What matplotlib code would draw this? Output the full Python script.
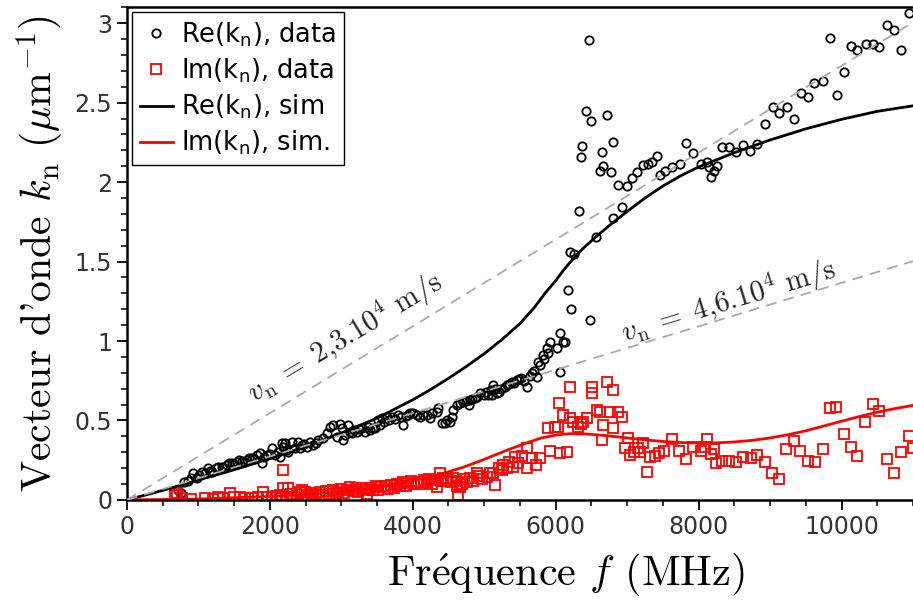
import numpy as np
import matplotlib
matplotlib.use("Agg")
import matplotlib.pyplot as plt
from matplotlib.ticker import MultipleLocator

# Re(k_n) measured points (f in MHz, k in um^-1)
re_f = [718, 756, 802, 858, 900, 928, 975, 1010, 1045, 1090, 1129, 1160, 1195, 1241, 1280,
        1325, 1360, 1395, 1430, 1465, 1500, 1535, 1570, 1605, 1640, 1675, 1710, 1745, 1780,
        1815, 1862, 1885, 1920, 1960, 2000, 2025, 2072, 2110, 2142, 2165, 2188, 2212, 2235,
        2260, 2305, 2352, 2398, 2420, 2445, 2480, 2515, 2562, 2608, 2640, 2678, 2748, 2795,
        2842, 2888, 2935, 2982, 3005, 3028, 3052, 3098, 3120, 3145, 3180, 3215, 3250, 3285,
        3332, 3370, 3402, 3440, 3472, 3518, 3540, 3565, 3600, 3635, 3670, 3705, 3750, 3798,
        3840, 3868, 3900, 3938, 3962, 4008, 4055, 4102, 4148, 4195, 4242, 4265, 4335, 4358,
        4405, 4452, 4480, 4522, 4545, 4570, 4615, 4660, 4708, 4750, 4780, 4802, 4830, 4872,
        4900, 4942, 4990, 5020, 5058, 5090, 5105, 5128, 5150, 5175, 5200, 5240, 5292, 5315,
        5350, 5385, 5420, 5455, 5480, 5520, 5560, 5595, 5640, 5665, 5700, 5735, 5758, 5780,
        5828, 5840, 5875, 5898, 5922, 6015, 6062, 6062, 6108, 6132, 6174, 6216, 6202, 6253,
        6323, 6352, 6365, 6422, 6472, 6500, 6482, 6570, 6622, 6650, 6668, 6720, 6771, 6804,
        6808, 6869, 6925, 6995, 7074, 7144, 7228, 7298, 7345, 7424, 7466, 7527, 7624, 7742,
        7826, 7920, 8036, 8116, 8152, 8176, 8222, 8256, 8326, 8420, 8522, 8628, 8722, 8816,
        8932, 9034, 9128, 9236, 9328, 9432, 9534, 9618, 9734, 9832, 9936, 10038, 10130,
        10222, 10336, 10434, 10528, 10636, 10738, 10826, 10938]
re_k = [0.063, 0.042, 0.115, 0.121, 0.14, 0.172, 0.138, 0.16, 0.178, 0.17, 0.199, 0.185, 0.178,
        0.199, 0.21, 0.206, 0.2, 0.22, 0.235, 0.231, 0.225, 0.241, 0.25, 0.247, 0.24, 0.252,
        0.265, 0.262, 0.255, 0.283, 0.294, 0.231, 0.27, 0.28, 0.29, 0.325, 0.283, 0.3, 0.272,
        0.356, 0.335, 0.356, 0.314, 0.3, 0.367, 0.325, 0.367, 0.33, 0.346, 0.35, 0.335, 0.367,
        0.346, 0.36, 0.377, 0.388, 0.419, 0.461, 0.472, 0.398, 0.478, 0.455, 0.377, 0.409,
        0.472, 0.43, 0.419, 0.44, 0.43, 0.445, 0.451, 0.43, 0.46, 0.44, 0.455, 0.451, 0.503,
        0.47, 0.514, 0.49, 0.524, 0.5, 0.524, 0.51, 0.535, 0.52, 0.472, 0.53, 0.535, 0.545,
        0.545, 0.535, 0.524, 0.535, 0.535, 0.514, 0.545, 0.556, 0.577, 0.486, 0.482, 0.5,
        0.492, 0.524, 0.566, 0.597, 0.61, 0.618, 0.62, 0.6, 0.629, 0.635, 0.64, 0.65, 0.671,
        0.66, 0.68, 0.66, 0.69, 0.66, 0.723, 0.7, 0.671, 0.68, 0.7, 0.713, 0.723, 0.73, 0.744,
        0.735, 0.755, 0.76, 0.77, 0.75, 0.713, 0.78, 0.797, 0.81, 0.776, 0.87, 0.85, 0.912,
        0.89, 0.954, 0.922, 0.996, 0.954, 1.048, 0.807, 0.996, 0.996, 1.321, 1.203, 1.562,
        1.545, 1.818, 2.155, 2.228, 2.449, 2.897, 2.384, 1.132, 1.656, 2.069, 2.19, 2.103,
        2.423, 2.061, 2.252, 1.774, 1.983, 1.843, 1.975, 2.027, 2.065, 2.107, 2.113, 2.128,
        2.162, 2.042, 2.071, 2.096, 2.111, 2.247, 2.184, 2.111, 2.128, 2.096, 2.03, 2.071,
        2.103, 2.222, 2.218, 2.19, 2.233, 2.195, 2.239, 2.363, 2.47, 2.432, 2.474, 2.4, 2.562,
        2.537, 2.625, 2.635, 2.908, 2.547, 2.694, 2.855, 2.834, 2.872, 2.866, 2.851, 2.987,
        2.956, 2.834, 3.067]

# Im(k_n) measured points
im_f = [672, 695, 765, 900, 1092, 1200, 1279, 1350, 1442, 1500, 1582, 1650, 1750, 1830, 1908,
        1960, 2025, 2080, 2140, 2180, 2188, 2235, 2258, 2300, 2328, 2380, 2422, 2445, 2492,
        2530, 2570, 2610, 2650, 2700, 2740, 2790, 2830, 2880, 2920, 2960, 3000, 3040, 3080,
        3122, 3160, 3200, 3240, 3290, 3330, 3360, 3402, 3440, 3480, 3520, 3560, 3612, 3650,
        3700, 3740, 3780, 3820, 3860, 3900, 3940, 3980, 4020, 4078, 4120, 4160, 4195, 4230,
        4270, 4312, 4335, 4382, 4400, 4430, 4470, 4500, 4530, 4570, 4600, 4620, 4638, 4662,
        4690, 4720, 4760, 4800, 4840, 4895, 4930, 4970, 5035, 5080, 5128, 5152, 5200, 5245,
        5268, 5315, 5350, 5400, 5432, 5470, 5524, 5595, 5595, 5665, 5726, 5782, 5898, 5922,
        5992, 6030, 6052, 6062, 6108, 6155, 6202, 6202, 6248, 6318, 6360, 6388, 6435, 6505,
        6505, 6575, 6622, 6645, 6668, 6715, 6762, 6808, 6808, 6878, 6925, 6972, 7018, 7042,
        7100, 7158, 7182, 7228, 7275, 7322, 7392, 7452, 7518, 7624, 7732, 7826, 7920, 8032,
        8092, 8124, 8176, 8218, 8246, 8334, 8432, 8522, 8628, 8732, 8824, 8932, 9026, 9128,
        9226, 9328, 9422, 9530, 9628, 9734, 9832, 9926, 10038, 10130, 10222, 10332, 10434,
        10528, 10636, 10728, 10832, 10938, 10995]
im_k = [0.031, 0.042, 0.01, 0.005, 0.01, 0.008, 0.017, 0.012, 0.046, 0.02, 0.021, 0.015, 0.01,
        0.018, 0.052, 0.02, 0.017, 0.025, 0.03, 0.075, 0.189, 0.021, 0.074, 0.04, 0.021, 0.035,
        0.052, 0.063, 0.052, 0.03, 0.045, 0.025, 0.04, 0.05, 0.03, 0.055, 0.04, 0.06, 0.035,
        0.05, 0.07, 0.045, 0.06, 0.084, 0.055, 0.07, 0.05, 0.075, 0.06, 0.04, 0.074, 0.065,
        0.085, 0.06, 0.08, 0.088, 0.07, 0.095, 0.075, 0.1, 0.085, 0.11, 0.09, 0.105, 0.12,
        0.1, 0.115, 0.1, 0.125, 0.115, 0.13, 0.1, 0.126, 0.084, 0.168, 0.12, 0.14, 0.12, 0.13,
        0.11, 0.14, 0.12, 0.09, 0.031, 0.084, 0.1, 0.13, 0.11, 0.14, 0.12, 0.168, 0.15, 0.13,
        0.147, 0.17, 0.168, 0.094, 0.2, 0.189, 0.22, 0.199, 0.24, 0.21, 0.272, 0.23, 0.277,
        0.199, 0.325, 0.262, 0.22, 0.262, 0.451, 0.31, 0.461, 0.46, 0.612, 0.298, 0.535, 0.304,
        0.713, 0.514, 0.492, 0.461, 0.48, 0.492, 0.514, 0.713, 0.671, 0.566, 0.556, 0.377,
        0.472, 0.744, 0.556, 0.692, 0.451, 0.556, 0.524, 0.325, 0.388, 0.283, 0.3, 0.325,
        0.304, 0.356, 0.178, 0.272, 0.277, 0.294, 0.308, 0.384, 0.308, 0.258, 0.331, 0.31,
        0.331, 0.384, 0.289, 0.321, 0.231, 0.247, 0.247, 0.241, 0.272, 0.266, 0.283, 0.241,
        0.168, 0.132, 0.321, 0.373, 0.308, 0.247, 0.237, 0.321, 0.577, 0.583, 0.413, 0.335,
        0.279, 0.492, 0.604, 0.56, 0.258, 0.172, 0.304, 0.403, 0.325]

# simulated curves
sim_f = [0, 500, 1000, 1500, 2000, 2500, 3000, 3500, 4000, 4250, 4500, 4750, 5000, 5250,
         5500, 5700, 5850, 6000, 6100, 6200, 6300, 6400, 6500, 6600, 6800, 7000, 7250, 7500,
         7750, 8000, 8250, 8500, 8750, 9000, 9500, 10000, 10500, 11000]
sim_re = [0, 0.06, 0.125, 0.19, 0.26, 0.335, 0.42, 0.515, 0.63, 0.695, 0.765, 0.84, 0.92,
          1.01, 1.11, 1.21, 1.3, 1.38, 1.44, 1.495, 1.545, 1.59, 1.63, 1.67, 1.745, 1.815,
          1.9, 1.975, 2.04, 2.095, 2.14, 2.185, 2.225, 2.265, 2.335, 2.395, 2.445, 2.48]
simi_f = [0, 1000, 2000, 2500, 3000, 3500, 3800, 4100, 4400, 4700, 5000, 5300, 5600, 5800,
          6000, 6200, 6400, 6600, 6800, 7000, 7250, 7500, 7750, 8000, 8250, 8500, 8750, 9000,
          9250, 9500, 9750, 10000, 10250, 10500, 10750, 11000]
sim_im = [0, 0.006, 0.022, 0.035, 0.052, 0.078, 0.1, 0.13, 0.163, 0.205, 0.255, 0.31, 0.36,
          0.39, 0.408, 0.417, 0.416, 0.409, 0.4, 0.39, 0.378, 0.368, 0.361, 0.358, 0.359,
          0.365, 0.375, 0.39, 0.41, 0.435, 0.465, 0.495, 0.525, 0.552, 0.575, 0.595]

# reference phase velocities (m/s) and their labels
vels = [2.3e4, 4.6e4]
vel_labels = [r"$v_\mathrm{n}\;=\;2{,}3.10^4$ m/s", r"$v_\mathrm{n}\;=\;4{,}6.10^4$ m/s"]
label_pos = [(3050, 1.02), (8420, 1.25)]

fig = plt.figure(figsize=(9.13, 6.06), dpi=100)
ax = fig.add_axes([0.139, 0.175, 0.861, 0.813])

ax.plot(re_f, re_k, 'o', mfc='none', mec='black', ms=6, mew=1.3, label=r'Re(k$_\mathrm{n}$), data')
ax.plot(im_f, im_k, 's', mfc='none', mec='red', ms=6.5, mew=1.3, label=r'Im(k$_\mathrm{n}$), data')
ax.plot(sim_f, sim_re, '-', color='black', lw=2, label=r'Re(k$_\mathrm{n}$), sim')
ax.plot(simi_f, sim_im, '-', color='red', lw=2, label=r'Im(k$_\mathrm{n}$), sim.')

ax.set_xlim(0, 11000)
ax.set_ylim(0, 3.1)

fline = np.array([0, 11000])
for v, txt, (tx, ty) in zip(vels, vel_labels, label_pos):
    kline = 2 * np.pi * fline / v
    ax.plot(fline, kline, '--', color='#aaaaaa', lw=1.3, dashes=(6, 4), zorder=3)
    p = ax.transData.transform(np.column_stack([fline, kline]))
    ang = np.degrees(np.arctan2(p[1, 1] - p[0, 1], p[1, 0] - p[0, 0]))
    t = ax.text(tx, ty, txt, rotation=ang, rotation_mode='anchor', ha='center', va='center',
                fontsize=21, family=['cmr10', 'DejaVu Serif'], color='#222222')
    t.set_math_fontfamily('cm')

xl = ax.set_xlabel(r"Fr$\mathrm{\acute{e}}$quence $f$ (MHz)", fontsize=30.5,
                   family=['cmr10', 'DejaVu Serif'])
xl.set_math_fontfamily('cm')
ax.xaxis.set_label_coords(0.558, -0.105)
yl = ax.set_ylabel(r"Vecteur d'onde $k_\mathrm{n}$ ($\mu$m$^{-1}$)", fontsize=30,
                   family=['cmr10', 'DejaVu Serif'], labelpad=6)
yl.set_math_fontfamily('cm')

ax.xaxis.set_major_locator(MultipleLocator(2000))
ax.xaxis.set_minor_locator(MultipleLocator(500))
ax.yaxis.set_major_locator(MultipleLocator(0.5))
ax.yaxis.set_minor_locator(MultipleLocator(0.1))
ax.tick_params(which='major', direction='out', length=7, width=1.3, labelsize=17,
               labelcolor='#333333')
ax.tick_params(which='minor', direction='out', length=4, width=1.1)
ax.yaxis.set_major_formatter(matplotlib.ticker.FuncFormatter(lambda y, _: f"{y:g}"))
for s in ax.spines.values():
    s.set_linewidth(1.8)
ax.spines['right'].set_visible(False)

leg = ax.legend(loc='upper left', fontsize=18.5, frameon=True, fancybox=False,
                edgecolor='black', framealpha=1, borderaxespad=0.2, borderpad=0.3,
                labelspacing=0.3, handlelength=1.3, handletextpad=0.3)
leg.get_frame().set_linewidth(1.0)

fig.savefig('out.png', dpi=100)
